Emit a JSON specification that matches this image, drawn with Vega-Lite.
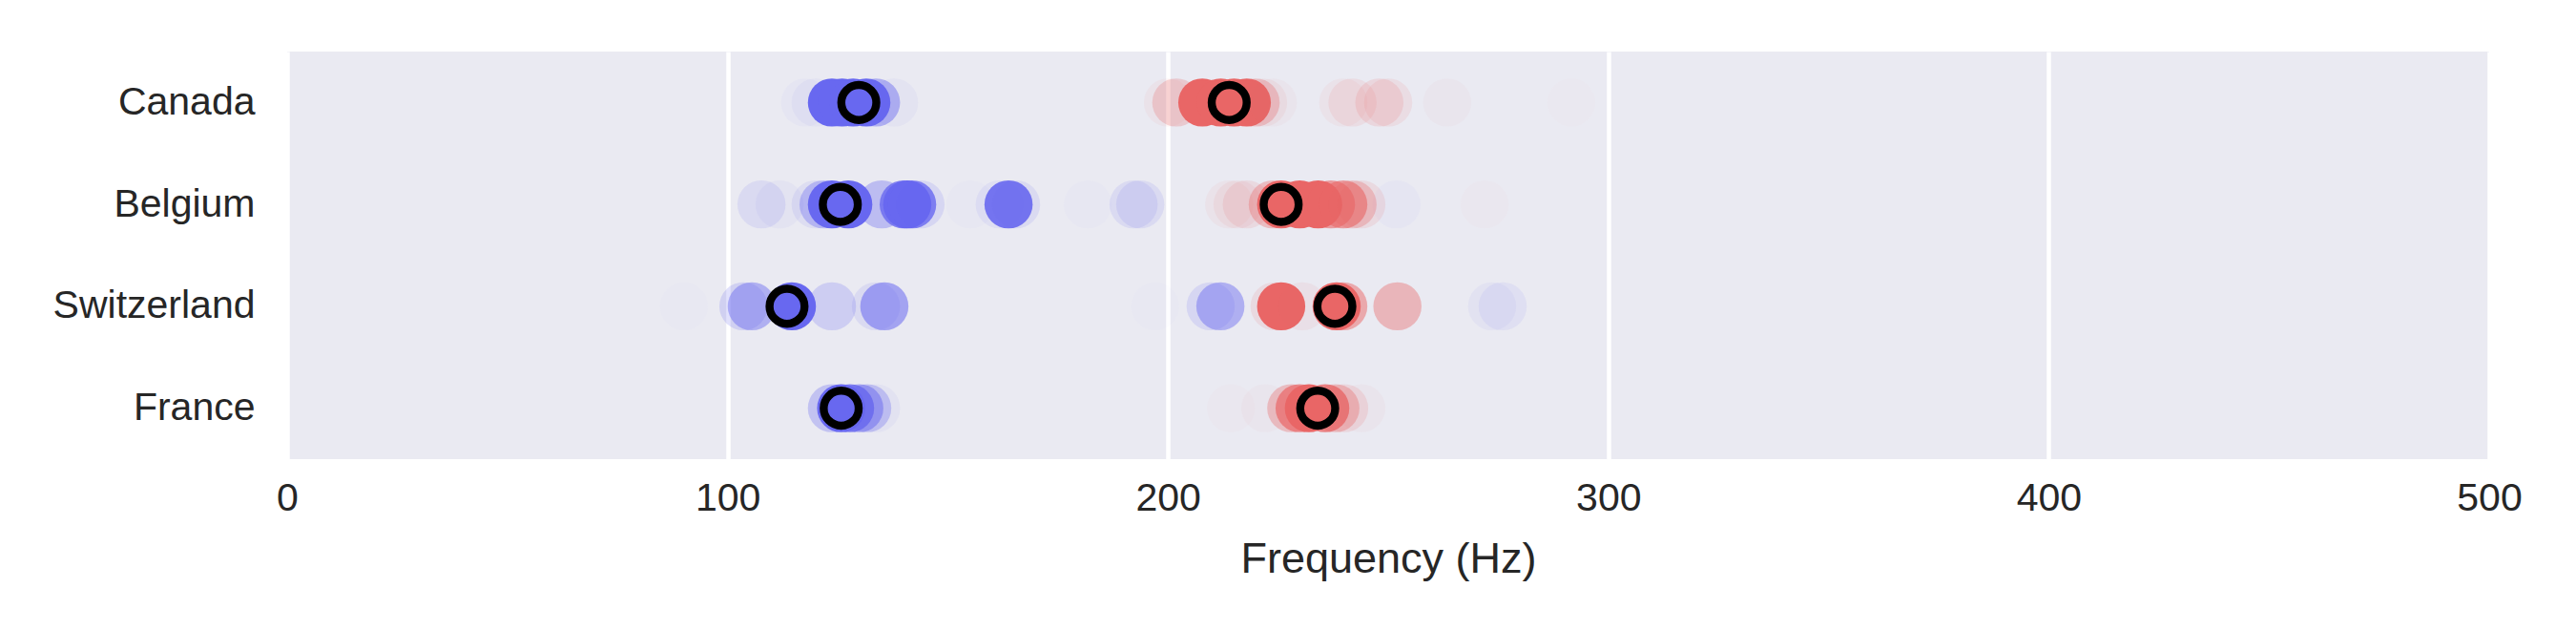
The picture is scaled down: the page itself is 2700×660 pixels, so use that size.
{
  "$schema": "https://vega.github.io/schema/vega-lite/v6.json",
  "width": 2308,
  "height": 427,
  "autosize": "none",
  "padding": {"left": 301, "top": 54, "right": 91, "bottom": 179},
  "background": "white",
  "datasets": {
    "calls": [
      {"country": "Canada", "group": "male", "frequency": 117.6, "weight": 0.03},
      {"country": "Canada", "group": "male", "frequency": 120.0, "weight": 0.05},
      {"country": "Canada", "group": "male", "frequency": 123.7, "weight": 1.0},
      {"country": "Canada", "group": "male", "frequency": 126.0, "weight": 1.0},
      {"country": "Canada", "group": "male", "frequency": 128.5, "weight": 1.0},
      {"country": "Canada", "group": "male", "frequency": 131.5, "weight": 1.0},
      {"country": "Canada", "group": "male", "frequency": 133.7, "weight": 0.45},
      {"country": "Canada", "group": "male", "frequency": 137.8, "weight": 0.05},
      {"country": "Canada", "group": "female", "frequency": 200.0, "weight": 0.06},
      {"country": "Canada", "group": "female", "frequency": 201.9, "weight": 0.25},
      {"country": "Canada", "group": "female", "frequency": 207.8, "weight": 1.0},
      {"country": "Canada", "group": "female", "frequency": 212.0, "weight": 1.0},
      {"country": "Canada", "group": "female", "frequency": 215.0, "weight": 1.0},
      {"country": "Canada", "group": "female", "frequency": 217.9, "weight": 1.0},
      {"country": "Canada", "group": "female", "frequency": 219.9, "weight": 0.3},
      {"country": "Canada", "group": "female", "frequency": 221.6, "weight": 0.08},
      {"country": "Canada", "group": "female", "frequency": 223.8, "weight": 0.04},
      {"country": "Canada", "group": "female", "frequency": 239.8, "weight": 0.06},
      {"country": "Canada", "group": "female", "frequency": 241.9, "weight": 0.1},
      {"country": "Canada", "group": "female", "frequency": 248.0, "weight": 0.15},
      {"country": "Canada", "group": "female", "frequency": 250.0, "weight": 0.1},
      {"country": "Canada", "group": "female", "frequency": 263.4, "weight": 0.03},
      {"country": "Canada", "group": "female", "frequency": 291.6, "weight": 0.015},

      {"country": "Belgium", "group": "male", "frequency": 107.7, "weight": 0.12},
      {"country": "Belgium", "group": "male", "frequency": 111.8, "weight": 0.05},
      {"country": "Belgium", "group": "male", "frequency": 120.0, "weight": 0.1},
      {"country": "Belgium", "group": "male", "frequency": 121.8, "weight": 0.35},
      {"country": "Belgium", "group": "male", "frequency": 123.7, "weight": 1.0},
      {"country": "Belgium", "group": "male", "frequency": 127.4, "weight": 1.0},
      {"country": "Belgium", "group": "male", "frequency": 135.0, "weight": 0.35},
      {"country": "Belgium", "group": "male", "frequency": 140.0, "weight": 0.8},
      {"country": "Belgium", "group": "male", "frequency": 140.8, "weight": 1.0},
      {"country": "Belgium", "group": "male", "frequency": 141.9, "weight": 0.8},
      {"country": "Belgium", "group": "male", "frequency": 143.8, "weight": 0.15},
      {"country": "Belgium", "group": "male", "frequency": 155.1, "weight": 0.02},
      {"country": "Belgium", "group": "male", "frequency": 161.8, "weight": 0.08},
      {"country": "Belgium", "group": "male", "frequency": 163.8, "weight": 0.9},
      {"country": "Belgium", "group": "male", "frequency": 165.5, "weight": 0.12},
      {"country": "Belgium", "group": "male", "frequency": 181.8, "weight": 0.02},
      {"country": "Belgium", "group": "male", "frequency": 192.2, "weight": 0.12},
      {"country": "Belgium", "group": "male", "frequency": 193.7, "weight": 0.12},
      {"country": "Belgium", "group": "male", "frequency": 251.9, "weight": 0.03},
      {"country": "Belgium", "group": "female", "frequency": 213.9, "weight": 0.06},
      {"country": "Belgium", "group": "female", "frequency": 215.8, "weight": 0.08},
      {"country": "Belgium", "group": "female", "frequency": 217.9, "weight": 0.12},
      {"country": "Belgium", "group": "female", "frequency": 223.8, "weight": 0.35},
      {"country": "Belgium", "group": "female", "frequency": 225.7, "weight": 1.0},
      {"country": "Belgium", "group": "female", "frequency": 229.9, "weight": 1.0},
      {"country": "Belgium", "group": "female", "frequency": 234.1, "weight": 1.0},
      {"country": "Belgium", "group": "female", "frequency": 237.0, "weight": 0.6},
      {"country": "Belgium", "group": "female", "frequency": 239.8, "weight": 0.6},
      {"country": "Belgium", "group": "female", "frequency": 241.9, "weight": 0.3},
      {"country": "Belgium", "group": "female", "frequency": 243.9, "weight": 0.12},
      {"country": "Belgium", "group": "female", "frequency": 271.9, "weight": 0.02},

      {"country": "Switzerland", "group": "male", "frequency": 90.1, "weight": 0.015},
      {"country": "Switzerland", "group": "male", "frequency": 103.6, "weight": 0.2},
      {"country": "Switzerland", "group": "male", "frequency": 105.5, "weight": 0.45},
      {"country": "Switzerland", "group": "male", "frequency": 114.6, "weight": 1.0},
      {"country": "Switzerland", "group": "male", "frequency": 123.7, "weight": 0.22},
      {"country": "Switzerland", "group": "male", "frequency": 133.7, "weight": 0.12},
      {"country": "Switzerland", "group": "male", "frequency": 135.6, "weight": 0.55},
      {"country": "Switzerland", "group": "male", "frequency": 197.1, "weight": 0.015},
      {"country": "Switzerland", "group": "male", "frequency": 209.7, "weight": 0.15},
      {"country": "Switzerland", "group": "male", "frequency": 211.9, "weight": 0.45},
      {"country": "Switzerland", "group": "male", "frequency": 273.6, "weight": 0.06},
      {"country": "Switzerland", "group": "male", "frequency": 276.0, "weight": 0.08},
      {"country": "Switzerland", "group": "female", "frequency": 224.2, "weight": 0.12},
      {"country": "Switzerland", "group": "female", "frequency": 225.7, "weight": 1.0},
      {"country": "Switzerland", "group": "female", "frequency": 230.5, "weight": 0.08},
      {"country": "Switzerland", "group": "female", "frequency": 238.3, "weight": 1.0},
      {"country": "Switzerland", "group": "female", "frequency": 239.8, "weight": 0.5},
      {"country": "Switzerland", "group": "female", "frequency": 252.1, "weight": 0.4},

      {"country": "France", "group": "male", "frequency": 123.7, "weight": 0.3},
      {"country": "France", "group": "male", "frequency": 125.8, "weight": 1.0},
      {"country": "France", "group": "male", "frequency": 127.8, "weight": 0.8},
      {"country": "France", "group": "male", "frequency": 129.9, "weight": 0.5},
      {"country": "France", "group": "male", "frequency": 131.7, "weight": 0.3},
      {"country": "France", "group": "male", "frequency": 133.7, "weight": 0.06},
      {"country": "France", "group": "female", "frequency": 214.3, "weight": 0.02},
      {"country": "France", "group": "female", "frequency": 222.1, "weight": 0.03},
      {"country": "France", "group": "female", "frequency": 228.0, "weight": 0.35},
      {"country": "France", "group": "female", "frequency": 229.9, "weight": 0.7},
      {"country": "France", "group": "female", "frequency": 232.0, "weight": 1.0},
      {"country": "France", "group": "female", "frequency": 235.7, "weight": 0.8},
      {"country": "France", "group": "female", "frequency": 238.0, "weight": 0.35},
      {"country": "France", "group": "female", "frequency": 240.0, "weight": 0.15},
      {"country": "France", "group": "female", "frequency": 243.9, "weight": 0.04}
    ],
    "means": [
      {"country": "Canada", "group": "male", "frequency": 129.8},
      {"country": "Canada", "group": "female", "frequency": 213.9},
      {"country": "Belgium", "group": "male", "frequency": 125.6},
      {"country": "Belgium", "group": "female", "frequency": 225.7},
      {"country": "Switzerland", "group": "male", "frequency": 113.5},
      {"country": "Switzerland", "group": "female", "frequency": 237.9},
      {"country": "France", "group": "male", "frequency": 125.8},
      {"country": "France", "group": "female", "frequency": 234.0}
    ]
  },
  "encoding": {
    "x": {
      "field": "frequency",
      "type": "quantitative",
      "title": "Frequency (Hz)",
      "scale": {"domain": [0, 500], "nice": false},
      "axis": {"values": [0, 100, 200, 300, 400, 500], "format": "d", "grid": true, "labelFlush": false}
    },
    "y": {
      "field": "country",
      "type": "nominal",
      "sort": ["Canada", "Belgium", "Switzerland", "France"],
      "title": null,
      "axis": {"grid": false, "labelPadding": 34, "labelLimit": 0}
    },
    "color": {
      "field": "group",
      "type": "nominal",
      "scale": {"domain": ["male", "female"], "range": ["#6868f0", "#e96666"]},
      "legend": null
    }
  },
  "layer": [
    {
      "data": {"name": "calls"},
      "mark": {"type": "circle", "size": 2550},
      "encoding": {
        "opacity": {
          "field": "weight",
          "type": "quantitative",
          "scale": {"domain": [0, 1], "range": [0, 1]},
          "legend": null
        }
      }
    },
    {
      "data": {"name": "means"},
      "mark": {"type": "circle", "size": 1345, "opacity": 1, "stroke": "black", "strokeWidth": 8.4}
    }
  ],
  "config": {
    "view": {"fill": "#eaeaf2", "stroke": null},
    "axis": {
      "domain": false,
      "ticks": false,
      "tickSize": 0,
      "labelFont": "Liberation Sans",
      "labelFontSize": 41,
      "labelColor": "#262626",
      "titleFont": "Liberation Sans",
      "titleFontSize": 45,
      "titleFontWeight": "normal",
      "titleColor": "#262626",
      "gridColor": "white",
      "gridWidth": 4.5,
      "gridOpacity": 1
    },
    "axisX": {"labelPadding": 21, "titlePadding": 21}
  }
}
